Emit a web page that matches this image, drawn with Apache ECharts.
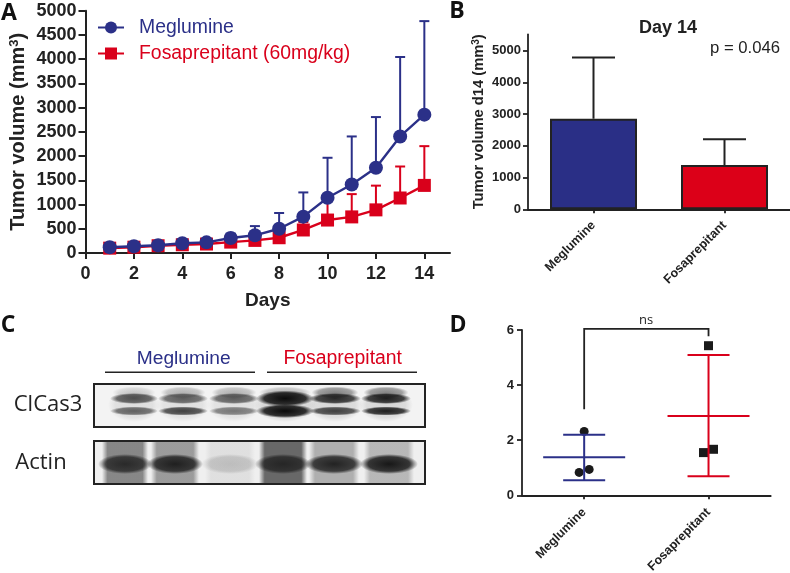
<!DOCTYPE html>
<html><head><meta charset="utf-8">
<style>html,body{margin:0;padding:0;background:#fff}#c{width:790px;height:573px}</style>
<script src="https://cdn.jsdelivr.net/npm/echarts@6/dist/echarts.min.js"></script>
</head><body><div id="c"></div>
<script>
// Panel A
const days = [1,2,3,4,5,6,7,8,9,10,11,12,13,14];
const megMean = [120,140,160,200,220,310,365,500,750,1140,1415,1760,2405,2855];
const megUpper = [170,190,210,250,265,400,555,825,1250,1965,2405,2805,4045,4785];
const fosMean = [100,120,150,170,185,225,260,315,475,680,745,890,1135,1395];
const fosUpper = [135,155,190,215,230,290,340,410,640,1090,1215,1390,1785,2205];
const xTicksA = [0,2,4,6,8,10,12,14];
// Panel B
const groups = ['Meglumine','Fosaprepitant'];
const d14Mean = [2855,1395];
const d14Upper = [4785,2205];
const yTicksB = [0,1000,2000,3000,4000,5000];
// Panel D
const megPoints = [2.32,0.83,0.94];
const fosPoints = [5.43,1.55,1.67];
const dMean = [1.38,2.88];
const dLow = [0.55,0.69];
const dHigh = [2.2,5.09];
const bracketValues = [3.12,6.04,5.77];
// Panel C: lane band strengths read from the blot
const casUpper = [.68,.62,.62,1,.85,.9];
const casLower = [.6,.75,.5,1,.75,.9];
const casTop = [.12,.22,.22,.2,.42,.42];
const actinBand = [.75,.85,.16,.7,.85,.92];
const actinSmear = [.52,.42,.08,.68,.32,.28];

const BLUE='#2b3088', RED='#d9001b', INK='#222';
const FB='"Liberation Sans",Arial,sans-serif', FL='"Open Sans",sans-serif';
const plain=v=>String(v);

function errBars(xs, upper, color, cap, w, z, xi, yi){
  return {type:'custom', xAxisIndex:xi, yAxisIndex:yi, z, silent:true, clip:false,
    encode:{x:0,y:[1,2]},
    data:xs.map((x,i)=>[x,upper[i][0],upper[i][1]]),
    renderItem(p,api){
      const a=api.coord([api.value(0),api.value(1)]), b=api.coord([api.value(0),api.value(2)]);
      return {type:'group',children:[
        {type:'line',shape:{x1:a[0],y1:a[1],x2:b[0],y2:b[1]},style:{stroke:color,lineWidth:w}},
        {type:'line',shape:{x1:b[0]-cap,y1:b[1],x2:b[0]+cap,y2:b[1]},style:{stroke:color,lineWidth:w}}
      ]};
    }};
}
function pair(a,b){return a.map((v,i)=>[v,b[i]]);}

// mean / SD marks of panel D
function meanSd(idx,color){
  return {type:'custom',xAxisIndex:2,yAxisIndex:2,z:3,silent:true,
    encode:{x:0,y:[1,2,3]},
    data:[[groups[idx],dLow[idx],dMean[idx],dHigh[idx]]],
    renderItem(p,api){
      const x=api.coord([idx,0])[0];
      const lo=api.coord([idx,api.value(1)])[1], m=api.coord([idx,api.value(2)])[1], hi=api.coord([idx,api.value(3)])[1];
      const s={stroke:color,lineWidth:2};
      return {type:'group',children:[
        {type:'line',shape:{x1:x,y1:lo,x2:x,y2:hi},style:s},
        {type:'line',shape:{x1:x-41,y1:m,x2:x+41,y2:m},style:s},
        {type:'line',shape:{x1:x-21,y1:lo,x2:x+21,y2:lo},style:s},
        {type:'line',shape:{x1:x-21,y1:hi,x2:x+21,y2:hi},style:s}
      ]};
    }};
}

function axisCommon(fs,w,tick,margin){
  return {axisLine:{show:true,onZero:false,lineStyle:{color:INK,width:w}},
    axisTick:{show:true,length:tick,lineStyle:{color:INK,width:w}},
    axisLabel:{color:INK,fontFamily:FB,fontWeight:'bold',fontSize:fs,margin,formatter:plain},
    splitLine:{show:false}};
}
function cat(gi,fs,margin){
  const a=axisCommon(fs,1.8,4,margin);
  delete a.axisLabel.formatter;
  a.type='category';a.gridIndex=gi;a.data=groups;
  a.axisTick.alignWithLabel=true;
  a.axisLabel.rotate=45;a.axisLabel.interval=0;
  return a;
}

// Panel C drawing
function soft(alpha){
  return {type:'radial',x:.5,y:.5,r:.5,colorStops:[
    {offset:0,color:`rgba(10,10,10,${alpha})`},
    {offset:.72,color:`rgba(10,10,10,${alpha*.82})`},
    {offset:1,color:'rgba(10,10,10,0)'}]};
}
function blob(cx,cy,rx,ry,a){
  return {type:'circle',silent:true,x:cx,y:cy,scaleX:rx/10,scaleY:ry/10,shape:{cx:0,cy:0,r:10},style:{fill:soft(Math.min(a,1))}};
}
function lane(x0,x1,y0,y1,a){
  return {type:'rect',silent:true,shape:{x:x0,y:y0,width:x1-x0,height:y1-y0},
    style:{fill:{type:'linear',x:0,y:0,x2:1,y2:0,colorStops:[
      {offset:0,color:'rgba(40,40,40,0)'},{offset:.12,color:`rgba(40,40,40,${a})`},
      {offset:.88,color:`rgba(40,40,40,${a})`},{offset:1,color:'rgba(40,40,40,0)'}]}}};
}
const casX=[134,183,234,285,335,386], casW=[24,25,25,29,26,25];
const actX=[125,175,230,283,334,389], actW=[23,24,25,24,25,25];
const blot=[];
blot.push({type:'rect',silent:true,shape:{x:94,y:384,width:331,height:43},style:{fill:'#f3f3f3'}});
blot.push({type:'rect',silent:true,shape:{x:94,y:441,width:331,height:43},style:{fill:'#efefef'}});
casX.forEach((x,i)=>{
  blot.push(blob(x,405,casW[i]+2,17,casUpper[i]*.14));
  blot.push(blob(x,392.5,casW[i]*.9,6,casTop[i]));
  blot.push(blob(x,398.5,casW[i],casUpper[i]>.9?8:5.5,casUpper[i]));
  blot.push(blob(x,411,casW[i],casLower[i]>.9?7:4.5,casLower[i]));
});
actX.forEach((x,i)=>{
  blot.push(lane(x-actW[i],x+actW[i],442,483,actinSmear[i]));
  blot.push(blob(x,464,actW[i]+4,10,actinBand[i]));
});
const border=(y,h)=>({type:'rect',silent:true,shape:{x:94,y,width:331,height:h},style:{fill:'none',stroke:'#232323',lineWidth:2}});
const hline=(x1,x2,y)=>({type:'line',silent:true,shape:{x1,y1:y,x2,y2:y},style:{stroke:'#232323',lineWidth:1.6}});
const txt=(t,x,y,font,fill,align)=>({type:'text',silent:true,x,y,style:{text:t,font,fill,align:align||'center',verticalAlign:'middle'}});
const panelFont='bold 23px '+FL;

const option={
  animation:false,
  backgroundColor:'#fff',
  legend:{
    left:92,top:13,orient:'vertical',itemWidth:26,itemHeight:15,itemGap:7,selectedMode:false,
    data:[
      {name:'Meglumine',textStyle:{color:BLUE}},
      {name:'Fosaprepitant (60mg/kg)',textStyle:{color:RED}}
    ],
    textStyle:{fontFamily:FB,fontSize:19.4,padding:[0,0,0,10]}
  },
  title:[{text:'Day 14',left:663,top:14,textAlign:'center',textStyle:{fontFamily:FB,fontWeight:'bold',fontSize:18,color:INK}}],
  grid:[
    {left:85.5,top:10.7,width:364.5,height:242.3,outerBoundsMode:'none'},
    {left:528,top:34.3,width:262,height:175,outerBoundsMode:'none'},
    {left:522,top:330,width:248.7,height:165.3,outerBoundsMode:'none'}
  ],
  xAxis:[
    Object.assign(axisCommon(18,2,6,9),{type:'value',gridIndex:0,min:0,max:15.06,interval:1,
      name:'Days',nameLocation:'middle',nameGap:38,
      nameTextStyle:{color:INK,fontFamily:FB,fontWeight:'bold',fontSize:19},
      axisTick:{show:true,length:6,lineStyle:{color:INK,width:2},customValues:xTicksA},
      axisLabel:{color:INK,fontFamily:FB,fontWeight:'bold',fontSize:18,margin:12,customValues:xTicksA,formatter:plain}}),
    cat(1,12.5,14),
    cat(2,12.5,15)
  ],
  yAxis:[
    Object.assign(axisCommon(18,2,7,9),{type:'value',gridIndex:0,min:0,max:5000,interval:500,
      name:'Tumor volume (mm{s|3})',nameLocation:'middle',nameGap:56,
      nameTextStyle:{color:INK,fontFamily:FB,fontWeight:'bold',fontSize:20,rich:{s:{fontFamily:FB,fontWeight:'bold',fontSize:13,color:INK,verticalAlign:'top',lineHeight:22}}}}),
    Object.assign(axisCommon(13,1.8,5,7),{type:'value',gridIndex:1,min:0,max:5517,interval:1000,
      name:'Tumor volume d14 (mm{s|3})',nameLocation:'middle',nameGap:41,
      nameTextStyle:{color:INK,fontFamily:FB,fontWeight:'bold',fontSize:14.7,rich:{s:{fontFamily:FB,fontWeight:'bold',fontSize:10,color:INK,verticalAlign:'top',lineHeight:16}}},
      axisTick:{show:true,length:5,lineStyle:{color:INK,width:1.8},customValues:yTicksB},
      axisLabel:{color:INK,fontFamily:FB,fontWeight:'bold',fontSize:13,margin:7,customValues:yTicksB,formatter:plain}}),
    Object.assign(axisCommon(13,1.8,5,8),{type:'value',gridIndex:2,min:0,max:6,interval:2})
  ],
  series:[
    errBars(days,pair(fosMean,fosUpper),RED,5,2,2,0,0),
    {name:'Fosaprepitant (60mg/kg)',type:'line',xAxisIndex:0,yAxisIndex:0,z:3,data:pair(days,fosMean),
     symbol:'rect',symbolSize:13,clip:false,lineStyle:{color:RED,width:2.4},itemStyle:{color:RED},silent:true},
    errBars(days,pair(megMean,megUpper),BLUE,5,2,4,0,0),
    {name:'Meglumine',type:'line',xAxisIndex:0,yAxisIndex:0,z:5,data:pair(days,megMean),
     symbol:'circle',symbolSize:14,clip:false,lineStyle:{color:BLUE,width:2.4},itemStyle:{color:BLUE},silent:true},

    {type:'bar',xAxisIndex:1,yAxisIndex:1,z:3,barWidth:87,silent:true,
     data:d14Mean.map((v,i)=>({value:v,itemStyle:{color:i?'#dc0018':'#2a2f86',borderColor:'#222',borderWidth:2}}))},
    errBars(groups,pair(d14Mean,d14Upper),'#222',21.5,2,2,1,1),

    {type:'scatter',xAxisIndex:2,yAxisIndex:2,z:2,symbol:'circle',symbolSize:9,silent:true,itemStyle:{color:'#1a1a1a',opacity:1},
     data:megPoints.map((v,i)=>({value:[groups[0],v],symbolOffset:[[0,0],[-5,0],[5,0]][i]}))},
    {type:'scatter',xAxisIndex:2,yAxisIndex:2,z:2,symbol:'rect',symbolSize:9,silent:true,itemStyle:{color:'#1a1a1a',opacity:1},
     data:fosPoints.map((v,i)=>({value:[groups[1],v],symbolOffset:[[0,0],[-5,0],[5,0]][i]}))},
    meanSd(0,BLUE),
    meanSd(1,RED),
    {type:'custom',xAxisIndex:2,yAxisIndex:2,z:4,silent:true,clip:false,encode:{y:[0,1,2]},
     data:[bracketValues],
     renderItem(p,api){
       const l=api.coord([0,api.value(0)]), t=api.coord([0,api.value(1)]), r=api.coord([1,api.value(2)]);
       return {type:'polyline',shape:{points:[l,[l[0],t[1]],[r[0],t[1]],r]},style:{stroke:'#222',lineWidth:1.8,fill:'none'}};
     }}
  ],
  graphic:{elements:[
    ...blot,
    border(384,43),border(441,43),
    hline(105,255,372.3),hline(267,417,372.3),
    txt('Meglumine',183.7,358.5,'19.2px '+FB,BLUE),
    txt('Fosaprepitant',342.7,358.5,'19.4px '+FB,RED),
    txt('ClCas3',48,405,'22px '+FL,'#222'),
    txt('Actin',41,463,'22px '+FL,'#222'),
    txt('p = 0.046',745,48,'16.7px '+FB,'#222'),
    txt('ns',646,320,'13px '+FL,'#222'),
    txt('A',9,13,panelFont,'#111'),
    txt('B',457,11,panelFont,'#111'),
    txt('C',8,325,panelFont,'#111'),
    txt('D',458,325,panelFont,'#111')
  ]}
};
const chart=echarts.init(document.getElementById('c'),null,{renderer:'canvas'});
chart.setOption(option);
</script></body></html>
